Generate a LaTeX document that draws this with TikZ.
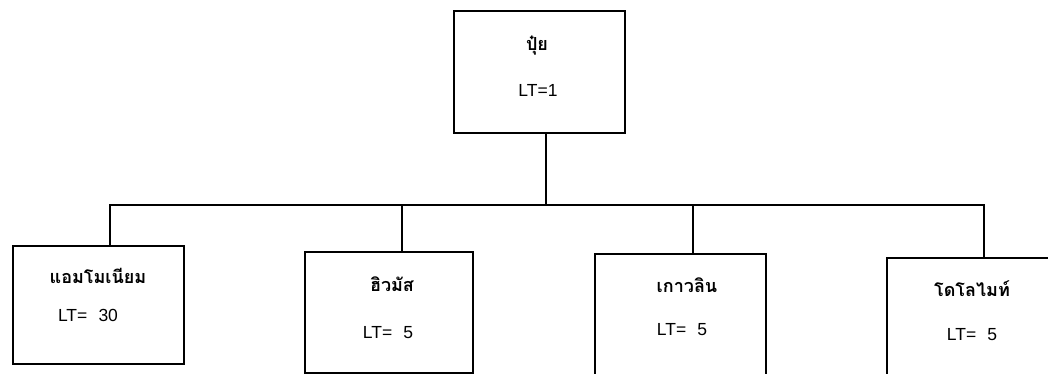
\documentclass[tikz,border=0pt]{standalone}
\usepackage{fontspec}
\setmainfont{Liberation Sans}[WordSpace=2.3]
\newfontfamily\thaifont[Script=Thai]{Loma}
\begin{document}
\begin{tikzpicture}[x=1pt,y=-1pt,
  box/.style={draw,line width=1.6pt,inner sep=0pt,anchor=north west},
  conn/.style={line width=1.4pt},
  th/.style={font=\thaifont\bfseries\fontsize{18}{20}\selectfont,inner sep=0pt},
  lt/.style={font=\fontsize{17.5}{19}\selectfont,inner sep=0pt}]
\useasboundingbox (0,0) rectangle (1048,373);
\clip (0,0) rectangle (1048,373);
% boxes
\node[box,minimum width=171pt,minimum height=122pt] (top) at (453,10) {};
\node[box,minimum width=171pt,minimum height=118pt] (b1) at (12,245) {};
\node[box,minimum width=168pt,minimum height=121pt] (b2) at (304,251) {};
\node[box,minimum width=171pt,minimum height=130pt] (b3) at (594,253) {};
\node[box,minimum width=180pt,minimum height=130pt] (b4) at (886,257) {};
% texts
\node[th] (t0) at (537,46) {ปุ๋ย};
\node[lt] (l0) at (538,90) {LT=1};
\node[th] (t1) at (98,276) {แอมโมเนียม};
\node[lt] (l1) at (88,315) {LT= 30};
\node[th] (t2) at (392,284) {ฮิวมัส};
\node[lt] (l2) at (388,333) {LT= 5};
\node[th] (t3) at (687,285) {เกาวลิน};
\node[lt] (l3) at (682,330) {LT= 5};
\node[th] (t4) at (972,289) {โดโลไมท์};
\node[lt] (l4) at (972,335) {LT= 5};
% connectors
\coordinate (bus) at (546,205);
\coordinate (busL) at (110,205);
\coordinate (busR) at (984,205);
\draw[conn] (top.south -| bus) -- (bus);
\draw[conn] (b1.north -| busL) -- (busL) -- (busR) -- (b4.north -| busR);
\draw[conn] (b2.north -| 402,0) -- (402,205);
\draw[conn] (b3.north -| 693,0) -- (693,205);
\end{tikzpicture}
\end{document}
